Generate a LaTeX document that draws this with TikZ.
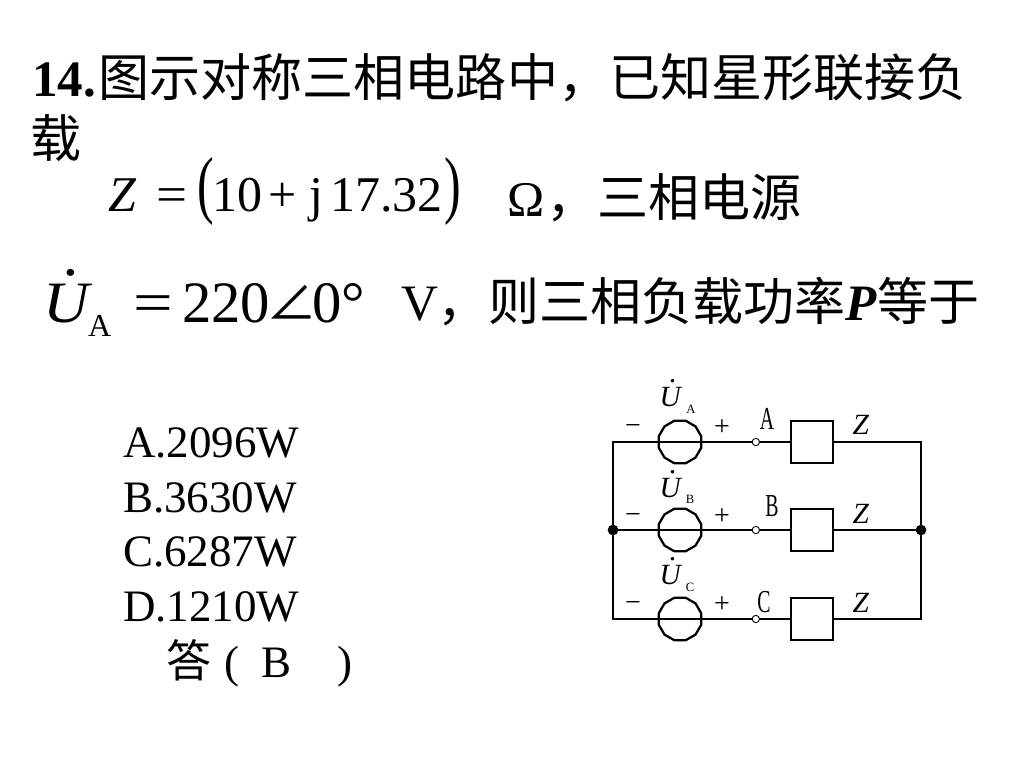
\documentclass[tikz,border=0pt]{standalone}
\usepackage{fontspec}
\usepackage{graphicx}
\usepackage{tikz}
\usetikzlibrary{positioning, shapes.geometric}
\setmainfont{Liberation Serif}
\newfontfamily\cjk{Noto Sans CJK SC}
\newcommand{\dotU}{\rlap{\raisebox{0.8em}{\hspace{0.34em}\textit{.}}}\textit{U}}

\begin{document}
\begin{tikzpicture}[
    x=0.75pt, y=-0.75pt,
    node distance=10pt,
    txt/.style={anchor=base west, inner sep=0pt, outer sep=0pt},
    title/.style={txt, font=\fontsize{38.3}{46}\selectfont},
    formula/.style={txt, font=\fontsize{37.5}{46}\selectfont},
    bigformula/.style={txt, font=\fontsize{44}{52}\selectfont},
    answer/.style={txt, font=\fontsize{33.75}{40}\selectfont},
    srclabel/.style={anchor=base, inner sep=0pt, font=\fontsize{22}{24}\selectfont},
    sublabel/.style={anchor=base, inner sep=0pt, font=\fontsize{9.5}{10}\selectfont},
    sign/.style={anchor=base, inner sep=0pt, font=\fontsize{21}{24}\selectfont},
    phase/.style={anchor=base, inner sep=0pt, font=\fontsize{24}{26}\selectfont},
    zlabel/.style={anchor=base, inner sep=0pt, font=\fontsize{22}{24}\selectfont},
    source/.style={regular polygon, regular polygon sides=12, draw=black, line width=1.7pt, minimum size=33pt, inner sep=0pt},
    terminal/.style={circle, draw=black, fill=white, line width=0.7pt, minimum size=5.5pt, inner sep=0pt},
    load/.style={rectangle, draw=black, fill=white, line width=1.7pt, minimum size=31.5pt, inner sep=0pt},
    joint/.style={circle, fill=black, minimum size=8pt, inner sep=0pt},
    wire/.style={line width=1.7pt, line cap=round, line join=round}
]
\useasboundingbox (0,0) rectangle (1024,768);

% Question text
\node[title] (line1) at (32,96) {\textbf{14.}\hspace{2pt}\cjk 图示对称三相电路中，已知星形联接负};
\node[title] (line2) at (31,157) {\cjk 载};

% Impedance
\node[formula] (zvalue) at (108,211) {\textit{Z}};
\node[formula] (zeq) at (156,211) {\scalebox{1.1}[1]{=}};
\node[formula] (zopen) at (197,209) {\scalebox{1}[1.5]{\fontsize{37.5}{40}\selectfont(}};
\node[formula] (zten) at (212,211) {10};
\node[formula] (zplus) at (268,211) {+};
\node[formula] (zimagj) at (309,211) {j};
\node[formula] (zimag) at (330,211) {17.32};
\node[formula] (zclose) at (444,209) {\scalebox{1}[1.5]{\fontsize{37.5}{40}\selectfont)}};
\node[formula] (zunit) at (507,216) {Ω};
\node[title] (zrest) at (546,216) {\cjk ，三相电源};

% Source voltage
\node[bigformula] (uvalue) at (43,322) {\scalebox{1.08}[1]{\dotU}};
\node[txt, font=\fontsize{24}{28}\selectfont] (usub) at (88,336) {A};
\node[bigformula] (ueq) at (133,322) {\scalebox{1.2}[1]{=}};
\node[bigformula] (utwo) at (182,322) {220};
\node[txt, font=\fontsize{38}{42}\selectfont] (uangle) at (266,320) {{\cjk ∠}};
\node[bigformula] (uzero) at (312,322) {0°};
\node[title] (line3) at (401,320) {V};
\node[title] (line3b) at (437,320) {\cjk ，则三相负载功率\rmfamily\textbf{\textit{P}}\cjk 等于};

% Answers
\node[answer] (optA) at (123,457) {A.2096W};
\node[answer] (optB) at (123,512) {B.3630W};
\node[answer] (optC) at (123,566) {C.6287W};
\node[answer] (optD) at (123,621) {D.1210W};
\node[answer] (reply) at (166,677) {{\cjk 答}};
\node[answer] (replyo) at (224,677) {(};
\node[answer] (replyb) at (261,677) {B};
\node[answer] (replyc) at (337,677) {)};

% Row A
\coordinate (leftA) at (613,442);
\coordinate (rightA) at (921,442);
\node[source] (srcA) at (680,442) {};
\node[terminal, right=37pt of srcA] (termA) {};
\node[load, right=22.5pt of termA] (loadA) {};

% Row B
\node[joint] (leftB) at (613,530) {};
\node[joint] (rightB) at (921,530) {};
\node[source] (srcB) at (680,530) {};
\node[terminal, right=37pt of srcB] (termB) {};
\node[load, right=22.5pt of termB] (loadB) {};

% Row C
\coordinate (leftC) at (613,619);
\coordinate (rightC) at (921,619);
\node[source] (srcC) at (680,619) {};
\node[terminal, right=37pt of srcC] (termC) {};
\node[load, right=22.5pt of termC] (loadC) {};

% Wires
\draw[wire] (leftA) -- (termA);
\draw[wire] (termA) -- (loadA);
\draw[wire] (loadA) -- (rightA);
\draw[wire] (leftB) -- (termB);
\draw[wire] (termB) -- (loadB);
\draw[wire] (loadB) -- (rightB);
\draw[wire] (leftC) -- (termC);
\draw[wire] (termC) -- (loadC);
\draw[wire] (loadC) -- (rightC);
\draw[wire] (leftA) -- (leftB);
\draw[wire] (leftB) -- (leftC);
\draw[wire] (rightA) -- (rightB);
\draw[wire] (rightB) -- (rightC);

% Labels
\node[srclabel] (uA) at (671,406) {\dotU};
\node[sublabel] (uAs) at (691,413) {A};
\node[srclabel] (uB) at (671,497) {\dotU};
\node[sublabel] (uBs) at (690,503) {B};
\node[srclabel] (uC) at (671,584) {\dotU};
\node[sublabel] (uCs) at (690,591) {C};
\node[sign] (minusA) at (633,434) {\textminus};
\node[sign] (plusA) at (722,435) {+};
\node[sign] (minusB) at (633,523) {\textminus};
\node[sign] (plusB) at (722,524) {+};
\node[sign] (minusC) at (633,611) {\textminus};
\node[sign] (plusC) at (722,612) {+};
\node[phase] (nameA) at (767,429) {\scalebox{0.62}[1]{A}};
\node[phase] (nameB) at (772,516) {\scalebox{0.62}[1]{B}};
\node[phase] (nameC) at (764,612) {\scalebox{0.62}[1]{C}};
\node[zlabel] (zA) at (861,434) {\textit{Z}};
\node[zlabel] (zB) at (861,523) {\textit{Z}};
\node[zlabel] (zC) at (861,612) {\textit{Z}};

\end{tikzpicture}
\end{document}
